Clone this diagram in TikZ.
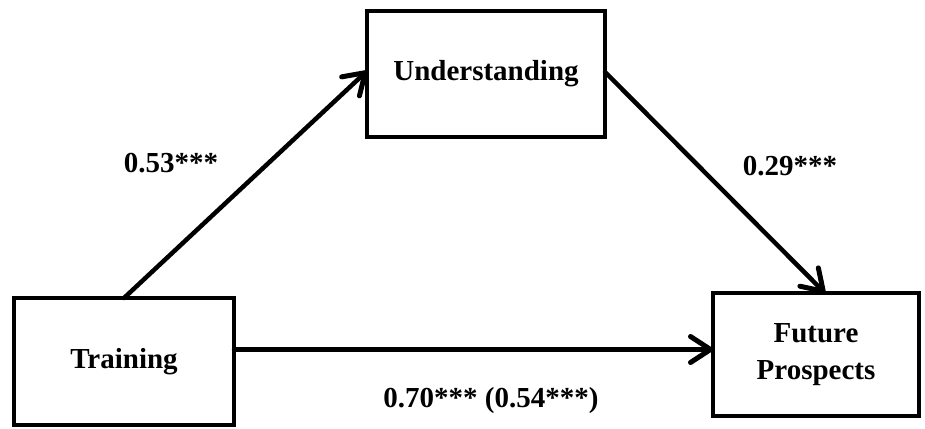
\documentclass[tikz,border=0pt]{standalone}
\usepackage{fontspec}
\setmainfont{Liberation Serif}
\usetikzlibrary{arrows.meta,shadows}
\begin{document}
\begin{tikzpicture}[x=1pt,y=-1pt,
  varbox/.style={draw=black, line width=4.5pt, fill=white, rectangle, outer sep=0pt,
    align=center, font=\fontsize{29}{37}\selectfont\bfseries,
    drop shadow={opacity=0.12, shadow xshift=2pt, shadow yshift=-2pt}},
  pathline/.style={line width=4.5pt, line cap=round,
    -{Straight Barb[length=20pt,width=26pt,line width=5pt,round]}},
  coef/.style={font=\fontsize{29}{37}\selectfont\bfseries, inner sep=0pt}]
\useasboundingbox (0,0) rectangle (925,428);
\node[varbox, minimum width=220pt, minimum height=127pt] (train) at (124,361.5) {Training};
\node[varbox, minimum width=238pt, minimum height=126pt] (under) at (486,74) {Understanding};
\node[varbox, minimum width=206pt, minimum height=123pt] (future) at (816,354.5) {Future\\Prospects};
\draw[pathline] (train.north) -- ([yshift=3pt]under.west);
\draw[pathline] ([yshift=2pt]under.east) -- ([xshift=9pt]future.north);
\coordinate (hstart) at ([yshift=12pt]train.east);
\draw[pathline] (hstart) -- (hstart -| future.west);
\node[coef] (c1) at (171,163) {0.53***};
\node[coef] (c2) at (790,166) {0.29***};
\node[coef] (c3) at (491,401) {0.70*** (0.54***)};
\end{tikzpicture}
\end{document}
